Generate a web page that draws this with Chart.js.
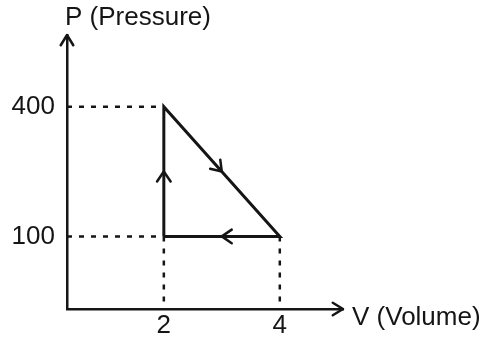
<!DOCTYPE html>
<html>
<head>
<meta charset="utf-8">
<script src="https://cdn.jsdelivr.net/npm/chart.js@4.4.0/dist/chart.umd.min.js"></script>
<style>
  html, body { margin: 0; padding: 0; background: #fff; }
  #wrap { width: 488px; height: 341px; }
</style>
</head>
<body>
<div id="wrap"><canvas id="pv"></canvas></div>
<script>
// cycle points (V, P)
const volumes = [2, 2, 4, 2];
const pressures = [100, 400, 100, 100];
const xTicks = [2, 4];
const yTicks = [100, 400];
const xLabel = 'V (Volume)';
const yLabel = 'P (Pressure)';

const X_MIN = 0.33, X_MAX = 5.09;
const Y_MIN = -68, Y_MAX = 566;
const INK = '#151515';
const FONT = '26px "Liberation Sans", Arial, sans-serif';

const cycle = volumes.map((v, i) => ({ x: v, y: pressures[i] }));

// dotted guides from axes to the corners
const guides = [];
yTicks.forEach(p => {
    const pt = cycle.filter(c => c.y === p).sort((a, b) => a.x - b.x)[0];
    guides.push([{ x: X_MIN, y: p }, { x: pt.x, y: p }]);
});
xTicks.forEach(v => {
    const pt = cycle.filter(c => c.x === v).sort((a, b) => a.y - b.y)[0];
    guides.push([{ x: v, y: pt.y }, { x: v, y: Y_MIN }]);
});

function chevron(ctx, x, y, ang, len, spread) {
    ctx.beginPath();
    ctx.moveTo(x - len * Math.cos(ang - spread), y - len * Math.sin(ang - spread));
    ctx.lineTo(x, y);
    ctx.lineTo(x - len * Math.cos(ang + spread), y - len * Math.sin(ang + spread));
    ctx.stroke();
}

const decorations = {
    id: 'decorations',
    afterDraw(chart) {
        const ctx = chart.ctx;
        const a = chart.chartArea;
        const sx = chart.scales.x, sy = chart.scales.y;
        ctx.save();
        ctx.strokeStyle = INK;
        ctx.fillStyle = INK;
        ctx.lineWidth = 2.5;
        ctx.lineCap = 'round';
        ctx.lineJoin = 'round';
        // axis arrow heads
        chevron(ctx, a.left, a.top, -Math.PI / 2, 12, 0.55);
        chevron(ctx, a.right, a.bottom, 0, 12, 0.55);
        // direction arrows on each leg of the cycle
        for (let i = 0; i < cycle.length - 1; i++) {
            const x1 = sx.getPixelForValue(cycle[i].x), y1 = sy.getPixelForValue(cycle[i].y);
            const x2 = sx.getPixelForValue(cycle[i + 1].x), y2 = sy.getPixelForValue(cycle[i + 1].y);
            const ang = Math.atan2(y2 - y1, x2 - x1);
            chevron(ctx, (x1 + x2) / 2, (y1 + y2) / 2, ang, 12, 0.6);
        }
        // axis names
        ctx.font = FONT;
        ctx.textBaseline = 'middle';
        ctx.textAlign = 'left';
        ctx.fillText(yLabel, a.left - 2, 18);
        ctx.fillText(xLabel, a.right + 9, 318);
        ctx.restore();
    }
};

const datasets = guides.map(g => ({
    data: g,
    borderColor: INK,
    borderWidth: 2.5,
    borderDash: [5, 7],
    pointRadius: 0,
    fill: false
}));
datasets.push({
    data: cycle,
    borderColor: INK,
    borderWidth: 3,
    pointRadius: 0,
    fill: false,
    tension: 0
});

new Chart(document.getElementById('pv'), {
    type: 'line',
    data: { datasets: datasets },
    options: {
        responsive: true,
        maintainAspectRatio: false,
        animation: false,
        layout: { padding: { top: 35, right: 145, left: 0, bottom: 0 } },
        plugins: { legend: { display: false }, tooltip: { enabled: false } },
        scales: {
            x: {
                type: 'linear',
                min: X_MIN,
                max: X_MAX,
                grid: { display: false, drawTicks: false },
                border: { display: true, color: INK, width: 2.5 },
                afterBuildTicks: s => { s.ticks = xTicks.map(v => ({ value: v })); },
                afterFit: s => { s.height = 32; },
                ticks: { color: INK, font: { family: '"Liberation Sans", Arial, sans-serif', size: 26 }, padding: 1, maxRotation: 0 }
            },
            y: {
                type: 'linear',
                min: Y_MIN,
                max: Y_MAX,
                grid: { display: false, drawTicks: false },
                border: { display: true, color: INK, width: 2.5 },
                afterBuildTicks: s => { s.ticks = yTicks.map(v => ({ value: v })); },
                afterFit: s => { s.width = 67; },
                ticks: { color: INK, font: { family: '"Liberation Sans", Arial, sans-serif', size: 26 }, padding: 12 }
            }
        }
    },
    plugins: [decorations]
});
</script>
</body>
</html>
